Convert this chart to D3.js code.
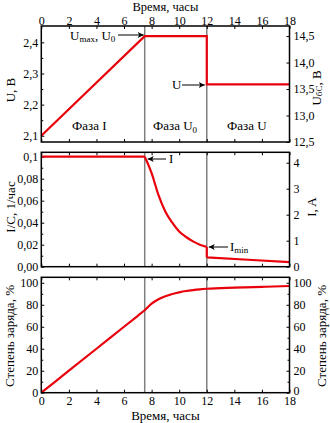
<!DOCTYPE html>
<html><head><meta charset="utf-8">
<script src="https://cdn.jsdelivr.net/npm/d3@7"></script>
<style>
html,body{margin:0;padding:0;background:#fff;}
svg text{font-family:"Liberation Serif","Times New Roman",serif;font-size:13px;fill:#000;}
svg g.tick text{font-size:12px;}
</style></head>
<body><svg id="c" width="330" height="423"></svg>
<script>
// ---- data ----
const xTicks = [0,2,4,6,8,10,12,14,16,18];
const phaseBounds = [7.5, 12];
const phaseNames = ["Фаза I", "Фаза U", "Фаза U"];

const uTime = [0, 7.5, 12, 12, 18];
const uCell = [2.1, 2.42, 2.42, 2.265, 2.265];
const uLeftTicks = [2.1, 2.2, 2.3, 2.4];
const uLeftLabels = ["2,1", "2,2", "2,3", "2,4"];
const uRightTicks = [12.5, 13.0, 13.5, 14.0, 14.5];
const uRightLabels = ["12,5", "13,0", "13,5", "14,0", "14,5"];

const iTime = [0, 7.5, 7.75, 8, 8.5, 9, 9.5, 10, 10.5, 11, 11.5, 12, 12, 15, 18];
const iRate = [0.1, 0.1, 0.093, 0.085, 0.065, 0.05, 0.04, 0.032, 0.027, 0.023, 0.02, 0.018, 0.0085, 0.0063, 0.0042];
const iLeftTicks = [0, 0.02, 0.04, 0.06, 0.08, 0.1];
const iLeftLabels = ["0,00", "0,02", "0,04", "0,06", "0,08", "0,1"];
const iRightTicks = [0, 1, 2, 3, 4];
const iRightLabels = ["0", "1", "2", "3", "4"];

const qTime = [0, 2, 4, 6, 7, 7.5, 8, 8.5, 9, 9.5, 10, 10.5, 11, 11.5, 12, 14, 16, 18];
const qVal  = [0, 20, 40, 60, 70, 75, 81, 85, 87.8, 89.8, 91.3, 92.5, 93.4, 94.1, 94.6, 95.6, 96.3, 97.1];
const qTicks = [0, 20, 40, 60, 80, 100];

// ---- layout ----
const svg = d3.select("#c");
const L = 41.3, R = 289.5;
const x = d3.scaleLinear().domain([0, 18]).range([L, R]);
const RED = "#e8000b";

const panels = [
  {top: 26, bot: 142, ld: [2.08, 2.4525], rd: [12.5, 14.69]},
  {top: 152.3, bot: 266.7, ld: [0, 0.104], rd: [0, 4.4]},
  {top: 277.3, bot: 392.7, ld: [0, 105], rd: [0, 105]}
];
panels.forEach(p => {
  p.yl = d3.scaleLinear().domain(p.ld).range([p.bot, p.top]);
  p.yr = d3.scaleLinear().domain(p.rd).range([p.bot, p.top]);
});

const defs = svg.append("defs");
defs.append("marker").attr("id","ah").attr("viewBox","0 0 10 10").attr("refX",10).attr("refY",5)
  .attr("markerWidth",7).attr("markerHeight",6).attr("markerUnits","userSpaceOnUse").attr("orient","auto")
  .append("path").attr("d","M0,0L10,5L0,10L2.5,5Z").attr("fill","#000");

function axisG(gen, tx, ty){
  const g = svg.append("g").attr("transform",`translate(${tx},${ty})`).call(gen);
  g.select(".domain").remove();
  g.selectAll("line").attr("stroke","#000").attr("stroke-width",1);
  g.attr("font-size",null).attr("font-family",null);
  return g;
}
function midpoints(arr){ const r=[]; for(let i=0;i<arr.length-1;i++) r.push((arr[i]+arr[i+1])/2); return r; }

function drawFrameAndX(p, topLabels, botLabels){
  phaseBounds.forEach(t => {
    svg.append("line").attr("x1",x(t)).attr("x2",x(t)).attr("y1",p.top).attr("y2",p.bot)
      .attr("stroke","#7f7f7f").attr("stroke-width",1.5);
  });
  const top = d3.axisTop(x).tickValues(xTicks).tickSizeInner(-3).tickSizeOuter(0).tickPadding(1.5)
    .tickFormat(topLabels ? d3.format("d") : "");
  axisG(top, 0, p.top);
  const bot = d3.axisBottom(x).tickValues(xTicks).tickSizeInner(-3).tickSizeOuter(0).tickPadding(4)
    .tickFormat(botLabels ? d3.format("d") : "");
  axisG(bot, 0, p.bot);
}
function yAxes(p, lt, ll, rt, rl, leftMinor, rightMinor){
  axisG(d3.axisLeft(p.yl).tickValues(lt).tickSizeInner(-3).tickSizeOuter(0).tickPadding(3)
    .tickFormat((d,i)=>ll[i]), L, 0);
  if (leftMinor) axisG(d3.axisLeft(p.yl).tickValues(midpoints(lt)).tickSizeInner(-2).tickSizeOuter(0).tickFormat(""), L, 0);
  const gr = axisG(d3.axisRight(p.yr).tickValues(rt).tickSizeInner(-3).tickSizeOuter(0).tickPadding(4)
    .tickFormat((d,i)=>rl[i]), R, 0);
  if (rightMinor) axisG(d3.axisRight(p.yr).tickValues(midpoints(rt)).tickSizeInner(-2).tickSizeOuter(0).tickFormat(""), R, 0);
  return gr;
}
function frame(p){
  svg.append("rect").attr("x",L).attr("y",p.top).attr("width",R-L).attr("height",p.bot-p.top)
    .attr("fill","none").attr("stroke","#000").attr("stroke-width",1.5);
}
function series(tArr, vArr, yS){
  const pts = tArr.map((t,i)=>[x(t), yS(vArr[i])]);
  const pieces = []; let cur = [pts[0]];
  for (let i=1;i<pts.length;i++){
    if (tArr[i] === tArr[i-1]) { pieces.push(cur); pieces.push([pts[i-1], pts[i]]); cur=[pts[i]]; }
    else cur.push(pts[i]);
  }
  pieces.push(cur);
  const gen = d3.line().curve(d3.curveMonotoneX);
  const lin = d3.line();
  let d = "";
  pieces.forEach(pc => {
    if (pc.length < 2) return;
    if (pc[0][0] === pc[1][0] && pc.length===2) d += lin(pc); else d += gen(pc);
  });
  svg.append("path").attr("d",d).attr("fill","none").attr("stroke",RED).attr("stroke-width",2.2);
}
function arrow(x1,y1,x2,y2){
  svg.append("line").attr("x1",x1).attr("y1",y1).attr("x2",x2).attr("y2",y2)
    .attr("stroke","#000").attr("stroke-width",1).attr("marker-end","url(#ah)");
}

// ---- panel 1: voltage ----
const p1 = panels[0];
drawFrameAndX(p1, true, false);
yAxes(p1, uLeftTicks, uLeftLabels, uRightTicks, uRightLabels, true, false);
svg.append("path").attr("d", d3.line()(uTime.map((t,i)=>[x(t), p1.yl(uCell[i])])))
  .attr("fill","none").attr("stroke",RED).attr("stroke-width",2.2);
frame(p1);
svg.append("text").attr("x",(L+R)/2).attr("y",11.3).attr("style","font-size:12.5px")
  .attr("text-anchor","middle").text("Время, часы");
svg.append("text").attr("x",72).attr("y",130).text(phaseNames[0]);
const ph2 = svg.append("text").attr("x",153).attr("y",130).text("Фаза U");
ph2.append("tspan").attr("font-size","9px").attr("dy",3).text("0");
svg.append("text").attr("x",227).attr("y",130).text(phaseNames[2]);
const an1 = svg.append("text").attr("x",70).attr("y",40).text("U");
an1.append("tspan").attr("font-size","9px").attr("dy",2).text("max");
an1.append("tspan").attr("dy",-2).text(", U");
an1.append("tspan").attr("font-size","9px").attr("dy",2).text("0");
arrow(118, 35, x(7.5)-1, 35);
svg.append("text").attr("x",172).attr("y",89).text("U");
arrow(182, 85, x(12)-2, 85);
svg.append("text").attr("transform","translate(10,90) rotate(-90)").attr("text-anchor","middle")
  .attr("dominant-baseline","central").text("U, В");
const ur = svg.append("text").attr("transform","translate(316,88) rotate(-90)").attr("text-anchor","middle")
  .attr("dominant-baseline","central").text("U");
ur.append("tspan").attr("font-size","9px").attr("dy",3).text("бС");
ur.append("tspan").attr("dy",-3).text(", В");

// ---- panel 2: current ----
const p2 = panels[1];
drawFrameAndX(p2, false, false);
yAxes(p2, iLeftTicks, iLeftLabels, iRightTicks, iRightLabels, true, false);
{
  const k = iTime.indexOf(7.5);
  svg.append("path").attr("d", d3.line()(iTime.slice(0,k+1).map((t,i)=>[x(t), p2.yl(iRate[i])])))
    .attr("fill","none").attr("stroke",RED).attr("stroke-width",2.2);
  series(iTime.slice(k), iRate.slice(k), p2.yl);
}
frame(p2);
svg.append("text").attr("x",169).attr("y",163).text("I");
arrow(166, 159, x(7.5)+3, 159);
const imin = svg.append("text").attr("x",230).attr("y",251).text("I");
imin.append("tspan").attr("font-size","9px").attr("dy",2).text("min");
arrow(228, 247, x(12)+2, 247);
svg.append("text").attr("transform","translate(10,207) rotate(-90)").attr("text-anchor","middle")
  .attr("dominant-baseline","central").text("I/C, 1/час");
svg.append("text").attr("transform","translate(311,207) rotate(-90)").attr("text-anchor","middle")
  .attr("dominant-baseline","central").text("I, A");

// ---- panel 3: state of charge ----
const p3 = panels[2];
drawFrameAndX(p3, false, true);
const gr3 = yAxes(p3, qTicks, qTicks.map(String), qTicks, qTicks.map(String), true, true);
gr3.selectAll("g.tick text").filter(d => d === 0).attr("y", -2.5);
series(qTime, qVal, p3.yl);
frame(p3);
svg.append("text").attr("x",(L+R)/2).attr("y",420).attr("text-anchor","middle").text("Время, часы");
svg.append("text").attr("transform","translate(9,336) rotate(-90)").attr("text-anchor","middle")
  .attr("dominant-baseline","central").text("Степень заряда, %");
svg.append("text").attr("transform","translate(321,336) rotate(-90)").attr("text-anchor","middle")
  .attr("dominant-baseline","central").text("Степень заряда, %");
</script></body></html>
